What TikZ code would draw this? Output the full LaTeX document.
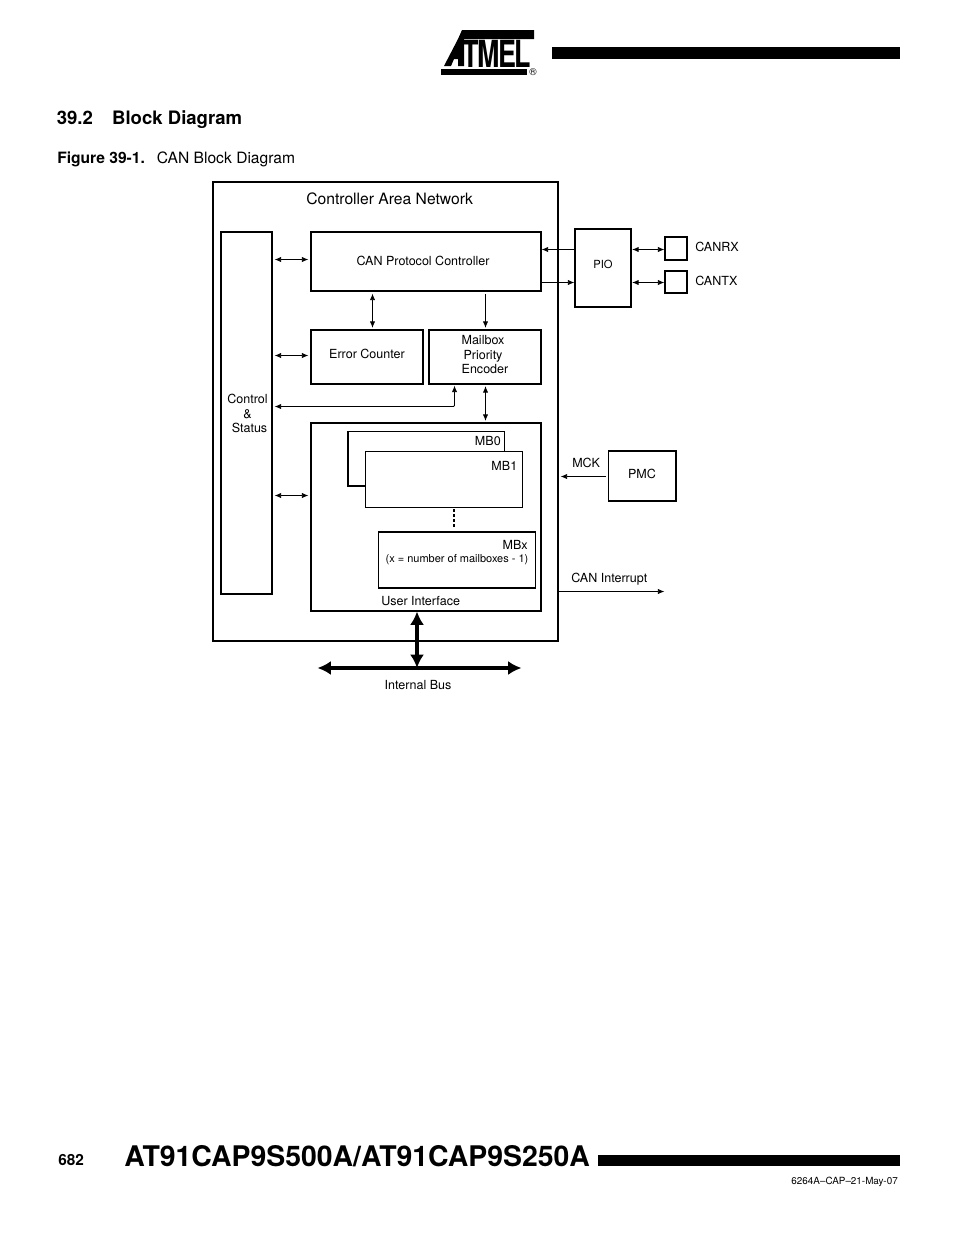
\documentclass[tikz,border=0pt]{standalone}
\usepackage{fontspec}
\setmainfont{TeX Gyre Heros}
\usetikzlibrary{arrows.meta}
\tikzset{
 x=0.75pt,y=-0.75pt,
 lbl/.style={inner sep=0,font=\fontsize{9.4}{11}\selectfont,align=center},
 conn/.style={line width=0.65pt,{Latex[length=5pt,width=4pt]}-{Latex[length=5pt,width=4pt]}},
 oneway/.style={line width=0.65pt,-{Latex[length=5pt,width=4pt]}},
 bus/.style={line width=2.6pt,{Latex[length=10pt,width=10.5pt]}-{Latex[length=10pt,width=10.5pt]}},
}
\newcommand{\pxbox}[6][]{\node[draw,#1,anchor=north west,inner sep=0,outer sep=0,minimum width=#5*0.75pt-#2*0.75pt,minimum height=#6*0.75pt-#3*0.75pt] (#4) at (#2,#3) {};}
\begin{document}
\begin{tikzpicture}
\useasboundingbox (0,0) rectangle (954,1235);
% header
\fill (552,47) rectangle (900,59);
\fill (598,1155) rectangle (900,1166);
% logo
\fill (462,30) -- (534,30) -- (534,39) -- (458,39) -- cycle;
\fill (441,68.5) -- (527,68.5) -- (527,75) -- (441,75) -- cycle;
\fill (444,66) -- (458,39) -- (464,39) -- (464,66) -- (458,66) -- (458,59) -- (454,59) -- (451,66) -- cycle;
\node[inner sep=0,font=\fontsize{28}{28}\bfseries\selectfont,anchor=base west,xscale=0.72,transform shape] (logo) at (462,67) {T\kern-1.5pt M\kern-1.5pt E\kern-1.5pt L};
\node[inner sep=0,font=\fontsize{7.5}{7.5}\selectfont] (reg) at (533,72) {®};
% headings
\node[inner sep=0,anchor=base west,font=\fontsize{13.9}{16}\bfseries\selectfont] (h1) at (56.5,124) {39.2\hspace{14.5pt}Block Diagram};
\node[inner sep=0,anchor=base west,font=\fontsize{11.7}{13}\selectfont] (h2) at (57,163) {\textbf{Figure 39-1.}\hspace{9pt}CAN Block Diagram};
\node[inner sep=0,anchor=base west,font=\fontsize{11.5}{13}\bfseries\selectfont] (pg) at (58,1165) {682};
\node[inner sep=0,anchor=base west,font=\fontsize{21.3}{24}\bfseries\selectfont] (title) at (124,1166) {AT91CAP9S500A/AT91CAP9S250A};
\node[inner sep=0,anchor=base east,font=\fontsize{7.4}{9}\selectfont] (doc) at (898,1184) {6264A–CAP–21-May-07};
% boxes
\pxbox[line width=0.9pt]{213}{182}{outer}{558}{641}
\pxbox[line width=1.5pt]{221}{232}{ctrl}{272}{594}
\pxbox[line width=1.5pt]{310.5}{232}{cpc}{541}{291}
\pxbox[line width=1.5pt]{310.5}{330}{err}{423}{383.5}
\pxbox[line width=1.5pt]{428.5}{330}{mpe}{541}{383.5}
\pxbox[line width=1.5pt]{311}{423}{ui}{541}{611}
\draw[line width=.6pt] (348,486) -- (348,431) -- (504.5,431) -- (504.5,451);
\draw[line width=1.3pt] (348,431) -- (348,486) -- (365.5,486);
\node[draw,line width=1.1pt,fill=white,anchor=north west,inner sep=0,minimum width=117.4pt,minimum height=42pt] (mb1) at (365,451) {};
\pxbox[line width=.9pt]{378.5}{532}{mbx}{535.5}{588}
\pxbox[line width=1.4pt]{575}{229}{pio}{631}{307}
\pxbox[line width=1pt]{665}{237}{rx}{687}{260}
\pxbox[line width=1pt]{665}{271}{tx}{687}{293}
\pxbox[line width=1pt]{608.5}{451}{pmc}{676}{501}
% labels
\node[lbl,font=\fontsize{11.75}{13}\selectfont,anchor=base west] (t1) at (306,204) {Controller Area Network};
\node[lbl,anchor=base] (t2) at (423,265) {CAN Protocol Controller};
\node[lbl,anchor=base] (t3) at (367,358) {Error Counter};
\node[lbl,anchor=base] (t4a) at (483,344) {Mailbox};
\node[lbl,anchor=base] (t4b) at (483,359) {Priority};
\node[lbl,anchor=base] (t4c) at (485,373) {Encoder};
\node[lbl,anchor=base] (t5a) at (247.5,403) {Control};
\node[lbl,anchor=base] (t5b) at (247.5,418) {\&};
\node[lbl,anchor=base] (t5c) at (249.5,432) {Status};
\node[lbl,anchor=base east] (m0) at (501,445) {MB0};
\node[lbl,anchor=base east] (m1) at (517.5,470) {MB1};
\node[lbl,anchor=base east] (m2) at (528,549) {MBx};
\node[lbl,font=\fontsize{8.25}{9}\selectfont,anchor=base] (m3) at (457,562) {(x = number of mailboxes - 1)};
\node[lbl,anchor=base west] (ul) at (381,605) {User Interface};
\node[lbl,anchor=base] (ib) at (418,689) {Internal Bus};
\node[lbl,font=\fontsize{8.4}{10}\selectfont,anchor=base] (pl) at (603,268) {PIO};
\node[lbl,anchor=base west] (crx) at (695,251) {CANRX};
\node[lbl,anchor=base west] (ctx) at (695,285) {CANTX};
\node[lbl,anchor=base] (pm) at (642,478) {PMC};
\node[lbl,anchor=base west] (mck) at (572,467) {MCK};
\node[lbl,anchor=base west] (ci) at (571,582) {CAN Interrupt};
% connectors
\coordinate (a1) at (274.5,259.5);\coordinate (a2) at (308.5,259.5);
\draw[conn] (a1) -- (a2);
\coordinate (b1) at (274.5,355.5);\coordinate (b2) at (308.5,355.5);
\draw[conn] (b1) -- (b2);
\coordinate (c1) at (274.5,495.5);\coordinate (c2) at (308.5,495.5);
\draw[conn] (c1) -- (c2);
\coordinate (d1) at (372.5,293.5);\coordinate (d2) at (372.5,328);
\draw[conn] (d1) -- (d2);
\coordinate (e1) at (485.5,294);\coordinate (e2) at (485.5,328);
\draw[oneway] (e1) -- (e2);
\coordinate (f1) at (485.5,386);\coordinate (f2) at (485.5,421);
\draw[conn] (f1) -- (f2);
\coordinate (g1) at (274.5,406.5);\coordinate (g2) at (454.5,406.5);\coordinate (g3) at (454.5,385.5);
\draw[conn,rounded corners=0.8pt] (g1) -- (g2) -- (g3);
\coordinate (h1a) at (575,249.5);\coordinate (h1b) at (541.5,249.5);
\draw[oneway] (h1a) -- (h1b);
\coordinate (h2a) at (541,282.5);\coordinate (h2b) at (574.5,282.5);
\draw[oneway] (h2a) -- (h2b);
\coordinate (i1) at (632,249.5);\coordinate (i2) at (664.5,249.5);
\draw[conn] (i1) -- (i2);
\coordinate (j1) at (632,282.5);\coordinate (j2) at (664.5,282.5);
\draw[conn] (j1) -- (j2);
\coordinate (k1) at (606,476.5);\coordinate (k2) at (560.5,476.5);
\draw[oneway] (k1) -- (k2);
\coordinate (l1) at (558,591.5);\coordinate (l2) at (664.5,591.5);
\draw[oneway] (l1) -- (l2);
\coordinate (n1) at (317.5,668);\coordinate (n2) at (521.5,668);
\draw[bus] (n1) -- (n2);
\coordinate (n3) at (417,611.5);\coordinate (n4) at (417,668);
\draw[bus] (n3) -- (n4);
\coordinate (v1) at (454,509);\coordinate (v2) at (454,529);
\draw[line width=1.5pt,dash pattern=on 2.2pt off 1.6pt] (v1) -- (v2);
\end{tikzpicture}
\end{document}
